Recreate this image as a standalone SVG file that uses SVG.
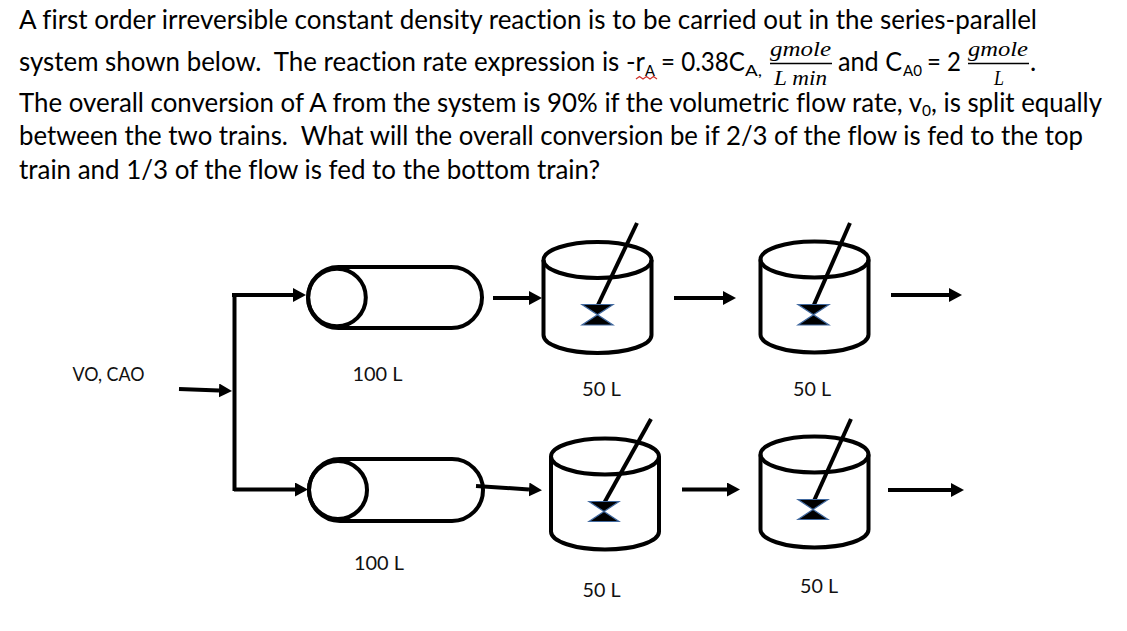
<svg xmlns="http://www.w3.org/2000/svg" width="1127" height="631" viewBox="0 0 1127 631">
<style>
text{font-family:"Lato","Open Sans","Liberation Sans",sans-serif;fill:#000;white-space:pre;font-variant-ligatures:none}
.b{font-size:26.500px}
.s{font-size:16px}
.m{font-family:"Liberation Serif","DejaVu Serif",serif;font-style:italic;font-size:21px}
.l{font-size:20px;fill:#111}
.k{fill:none;stroke:#000;stroke-width:4}
.h{fill:#000;stroke:#41699f;stroke-width:1.2}
.c{fill:none;stroke:#000;stroke-width:4;marker-end:url(#ah)}
.f{stroke:#000;stroke-width:1.6}
</style>
<defs>
<marker id="ah" markerUnits="userSpaceOnUse" markerWidth="14" markerHeight="15" refX="0" refY="7" orient="auto"><path d="M0,0L13,7L0,14z" fill="#000"/></marker>
<g id="tank"><ellipse cx="0" cy="0" rx="54" ry="18" class="k"/><path d="M-54,0V75C-54,85 -30,93 0,93C30,93 54,85 54,75V0" class="k"/></g>
</defs>
<g id="problem-text">
<text class="b" x="19" y="29" textLength="1018" lengthAdjust="spacingAndGlyphs">A first order irreversible constant density reaction is to be carried out in the series-parallel</text>
<text class="b" x="19" y="71" textLength="626" lengthAdjust="spacingAndGlyphs">system shown below.  The reaction rate expression is -r</text>
<text class="s" x="645" y="75.500" textLength="10" lengthAdjust="spacingAndGlyphs">A</text>
<path d="M636,79l3.500,-2.500l3.500,2.500l3.500,-2.500l3.500,2.500l3.500,-2.500l3.500,2.500" fill="none" stroke="#d0342c" stroke-width="1.300"/>
<text class="b" x="661" y="71" textLength="84" lengthAdjust="spacingAndGlyphs">= 0.38C</text>
<text class="s" x="745" y="75.500" textLength="17" lengthAdjust="spacingAndGlyphs">A,</text>
<text class="m" x="770" y="56" textLength="61" lengthAdjust="spacingAndGlyphs">gmole</text>
<line class="f" x1="770" y1="63.500" x2="832" y2="63.500"/>
<text class="m" x="774" y="85" textLength="53" lengthAdjust="spacingAndGlyphs">L min</text>
<text class="b" x="838" y="71" textLength="64" lengthAdjust="spacingAndGlyphs">and C</text>
<text class="s" x="903" y="75.500" textLength="19" lengthAdjust="spacingAndGlyphs">A0</text>
<text class="b" x="927" y="71" textLength="34" lengthAdjust="spacingAndGlyphs">= 2</text>
<text class="m" x="968" y="56" textLength="60" lengthAdjust="spacingAndGlyphs">gmole</text>
<line class="f" x1="968" y1="63.500" x2="1029" y2="63.500"/>
<text class="m" x="994" y="85" textLength="10" lengthAdjust="spacingAndGlyphs">L</text>
<text class="b" x="1030" y="71">.</text>
<text class="b" x="19" y="111.500" textLength="903" lengthAdjust="spacingAndGlyphs">The overall conversion of A from the system is 90% if the volumetric flow rate, v</text>
<text class="s" x="922" y="116" textLength="9" lengthAdjust="spacingAndGlyphs">0</text>
<text class="b" x="931" y="111.500" textLength="171" lengthAdjust="spacingAndGlyphs">, is split equally</text>
<text class="b" x="19" y="145" textLength="1064" lengthAdjust="spacingAndGlyphs">between the two trains.  What will the overall conversion be if 2/3 of the flow is fed to the top</text>
<text class="b" x="19" y="179" textLength="581" lengthAdjust="spacingAndGlyphs">train and 1/3 of the flow is fed to the bottom train?</text>
</g>
<g id="connectors">
<path class="c" d="M179,389L219,390.500"/>
<path d="M234.500,293V491" class="k"/>
<path class="c" d="M232,295H293"/>
<path class="c" d="M234,489.500H295"/>
<path class="c" d="M493,298H529"/>
<path class="c" d="M476,486L529,489.500"/>
<path class="c" d="M674,298H723"/>
<path class="c" d="M682,489.500H727"/>
<path class="c" d="M891,295H949"/>
<path class="c" d="M888,490H951"/>
</g>
<g id="feed"><text class="l" x="72.500" y="381" textLength="72" lengthAdjust="spacingAndGlyphs">VO, CAO</text></g>
<g id="pfr-top">
<rect class="k" x="308" y="267" width="174" height="61" rx="30.500"/>
<circle class="k" cx="337" cy="297.500" r="28.800"/>
<text class="l" x="352.500" y="381" textLength="50" lengthAdjust="spacingAndGlyphs">100 L</text>
</g>
<g id="pfr-bottom">
<rect class="k" x="309" y="459" width="174" height="62" rx="31"/>
<circle class="k" cx="338" cy="490" r="29"/>
<text class="l" x="354" y="570" textLength="50" lengthAdjust="spacingAndGlyphs">100 L</text>
</g>
<g id="cstr-top-1">
<use href="#tank" transform="translate(597.500,260)"/>
<line class="k" x1="637" y1="223" x2="597" y2="307"/>
<polygon class="h" points="582,304.500 613,304.500 582,325 613,325"/>
<text class="l" x="582" y="396" textLength="39" lengthAdjust="spacingAndGlyphs">50 L</text>
</g>
<g id="cstr-top-2">
<use href="#tank" transform="translate(814.500,259.500)"/>
<line class="k" x1="850" y1="223" x2="813" y2="307"/>
<polygon class="h" points="798,304.500 829,304.500 798,325 829,325"/>
<text class="l" x="793" y="396" textLength="38" lengthAdjust="spacingAndGlyphs">50 L</text>
</g>
<g id="cstr-bottom-1">
<use href="#tank" transform="translate(605,456.500)"/>
<line class="k" x1="651" y1="419" x2="603" y2="505"/>
<polygon class="h" points="589,501.500 619,501.500 589,521.500 619,521.500"/>
<text class="l" x="582.500" y="597" textLength="38" lengthAdjust="spacingAndGlyphs">50 L</text>
</g>
<g id="cstr-bottom-2">
<use href="#tank" transform="translate(814.500,454.500)"/>
<line class="k" x1="851" y1="419" x2="813" y2="503"/>
<polygon class="h" points="798,499.500 828,499.500 798,519.500 828,519.500"/>
<text class="l" x="800" y="592.500" textLength="38" lengthAdjust="spacingAndGlyphs">50 L</text>
</g>
</svg>
